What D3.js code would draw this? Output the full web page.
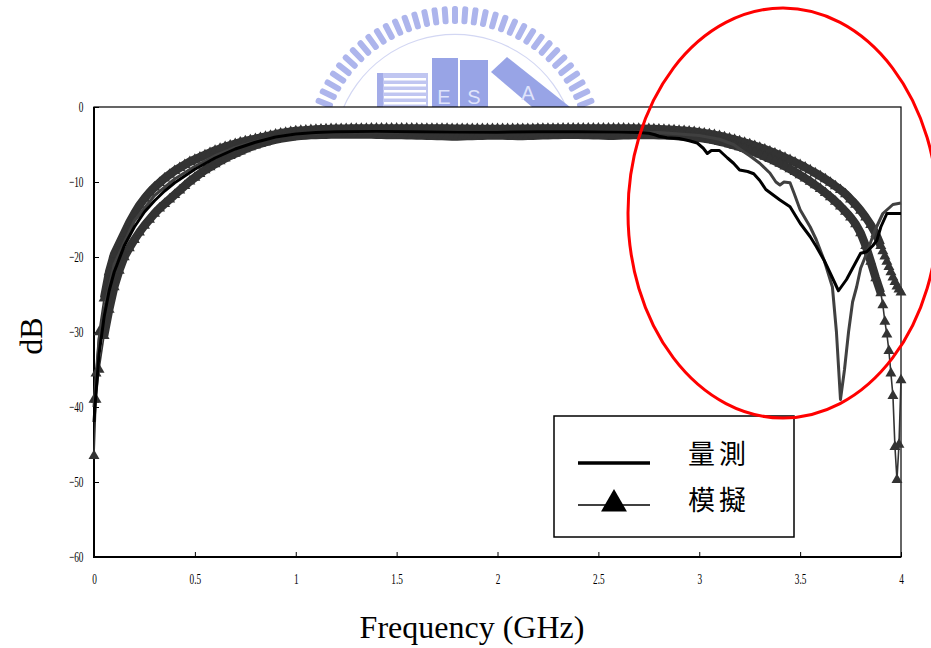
<!DOCTYPE html>
<html>
<head>
<meta charset="utf-8">
<script src="https://cdn.jsdelivr.net/npm/d3@7"></script>
<style>
  body { margin: 0; background: #fff; }
  svg { display: block; }
</style>
</head>
<body>
<div id="chart"></div>
<script>
// frequency grid of the two simulated curves (GHz)
const simFreq = [
  0, 0.01, 0.025, 0.05, 0.075, 0.1, 0.125, 0.15, 0.175, 0.2, 0.225,
  0.25, 0.275, 0.3, 0.325, 0.35, 0.375, 0.4, 0.425, 0.45, 0.475,
  0.5, 0.525, 0.55, 0.575, 0.6, 0.625, 0.65, 0.675, 0.7, 0.725,
  0.75, 0.775, 0.8, 0.825, 0.85, 0.875, 0.9, 0.925, 0.95, 0.975,
  1.0, 1.025, 1.05, 1.075, 1.1, 1.125, 1.15, 1.175, 1.2, 1.225,
  1.25, 1.275, 1.3, 1.325, 1.35, 1.375, 1.4, 1.425, 1.45, 1.475,
  1.5, 1.525, 1.55, 1.575, 1.6, 1.625, 1.65, 1.675, 1.7, 1.725,
  1.75, 1.775, 1.8, 1.825, 1.85, 1.875, 1.9, 1.925, 1.95, 1.975,
  2.0, 2.025, 2.05, 2.075, 2.1, 2.125, 2.15, 2.175, 2.2, 2.225,
  2.25, 2.275, 2.3, 2.325, 2.35, 2.375, 2.4, 2.425, 2.45, 2.475,
  2.5, 2.525, 2.55, 2.575, 2.6, 2.625, 2.65, 2.675, 2.7, 2.725,
  2.75, 2.775, 2.8, 2.825, 2.85, 2.875, 2.9, 2.925, 2.95, 2.975,
  3.0, 3.025, 3.05, 3.075, 3.1, 3.125, 3.15, 3.175, 3.2, 3.225,
  3.25, 3.275, 3.3, 3.325, 3.35, 3.375, 3.4, 3.425, 3.45, 3.475,
  3.5, 3.525, 3.55, 3.575, 3.6, 3.625, 3.65, 3.675, 3.7, 3.725,
  3.75, 3.775, 3.8, 3.825, 3.85, 3.875, 3.9, 3.91, 3.92, 3.93, 3.94, 3.95, 3.96, 3.97, 3.98, 3.99, 4.0
];
// simulated curve, wider passband
const simA = [
  -39, -35.5, -30, -25.5, -22, -19.6, -18.2, -16.8, -15.4, -14.2, -13.1,
  -12.2, -11.4, -10.7, -10.1, -9.5, -9.0, -8.5, -8.1, -7.7, -7.3,
  -7.0, -6.7, -6.4, -6.1, -5.8, -5.55, -5.3, -5.1, -4.9, -4.7,
  -4.55, -4.4, -4.25, -4.1, -3.95, -3.8, -3.65, -3.5, -3.4, -3.3,
  -3.2, -3.15, -3.1, -3.05, -3.0, -2.97, -2.95, -2.92, -2.9, -2.9,
  -2.9, -2.88, -2.88, -2.87, -2.87, -2.86, -2.86, -2.86, -2.85, -2.85,
  -2.85, -2.85, -2.86, -2.86, -2.86, -2.87, -2.87, -2.88, -2.88, -2.88,
  -2.88, -2.9, -2.9, -2.9, -2.9, -2.92, -2.92, -2.92, -2.92, -2.92,
  -2.92, -2.92, -2.92, -2.92, -2.9, -2.9, -2.9, -2.9, -2.88, -2.88,
  -2.88, -2.88, -2.88, -2.86, -2.86, -2.86, -2.86, -2.86, -2.86, -2.86,
  -2.86, -2.86, -2.86, -2.86, -2.86, -2.86, -2.87, -2.88, -2.89, -2.9,
  -2.92, -2.94, -2.97, -3.0, -3.04, -3.08, -3.13, -3.18, -3.24, -3.3,
  -3.4, -3.5, -3.6, -3.72, -3.85, -4.0, -4.17, -4.35, -4.55, -4.75,
  -4.95, -5.17, -5.4, -5.64, -5.9, -6.17, -6.45, -6.75, -7.05, -7.37,
  -7.7, -8.05, -8.42, -8.8, -9.2, -9.62, -10.07, -10.55, -11.05, -11.6,
  -12.3, -13.0, -13.8, -14.7, -15.7, -16.9, -18.5, -19.2, -19.9, -20.6, -21.3, -22.0, -22.7, -23.3, -23.9, -24.3, -24.7
];
// simulated curve, narrower passband with notch near 4 GHz
const simB = [
  -46.5, -39, -35, -30.5, -27, -24, -21.8, -20, -18.8, -17.7, -16.7,
  -15.8, -15.0, -14.2, -13.5, -12.9, -12.3, -11.7, -11.1, -10.5, -9.9,
  -9.4, -8.9, -8.4, -8.0, -7.6, -7.2, -6.85, -6.5, -6.2, -5.9,
  -5.6, -5.35, -5.1, -4.9, -4.7, -4.5, -4.35, -4.2, -4.1, -4.0,
  -3.9, -3.85, -3.8, -3.75, -3.72, -3.7, -3.7, -3.68, -3.68, -3.68,
  -3.66, -3.66, -3.66, -3.66, -3.68, -3.68, -3.7, -3.7, -3.72, -3.72,
  -3.74, -3.74, -3.76, -3.78, -3.8, -3.8, -3.82, -3.84, -3.86, -3.88,
  -3.9, -3.92, -3.92, -3.9, -3.88, -3.86, -3.84, -3.82, -3.8, -3.8,
  -3.8, -3.8, -3.82, -3.84, -3.86, -3.86, -3.84, -3.82, -3.8, -3.78,
  -3.76, -3.74, -3.72, -3.7, -3.7, -3.7, -3.7, -3.72, -3.74, -3.76,
  -3.78, -3.8, -3.82, -3.82, -3.8, -3.78, -3.76, -3.74, -3.72, -3.72,
  -3.72, -3.74, -3.76, -3.78, -3.81, -3.85, -3.89, -3.94, -4.0, -4.05,
  -4.1, -4.2, -4.32, -4.45, -4.6, -4.76, -4.94, -5.13, -5.34, -5.56,
  -5.8, -6.05, -6.32, -6.6, -6.9, -7.22, -7.55, -7.9, -8.27, -8.66,
  -9.07, -9.5, -9.95, -10.42, -10.92, -11.45, -12.0, -12.6, -13.25, -13.95,
  -14.7, -15.6, -16.8, -18.5, -20.6, -22.8, -24.8, -26.4, -28.6, -30.3, -32.5, -35.5, -38.5, -45.3, -49.7, -45.0, -36.4
];

// measured curve (legend: 量測)
const measFreq = [0, 0.01, 0.025, 0.05, 0.075, 0.1, 0.15, 0.2, 0.25, 0.3, 0.35, 0.4, 0.45, 0.5, 0.6, 0.7, 0.8, 0.9, 1.0,
  1.1, 1.2, 1.4, 1.6, 1.8, 2.0, 2.2, 2.4, 2.6, 2.7, 2.75, 2.78, 2.8, 2.84, 2.9, 2.95, 2.99, 3.02, 3.04, 3.06, 3.1,
  3.14, 3.17, 3.2, 3.24, 3.27, 3.3, 3.33, 3.37, 3.4, 3.45, 3.5, 3.55, 3.58, 3.62, 3.65, 3.69, 3.73, 3.77, 3.8,
  3.83, 3.86, 3.88, 3.9, 3.93, 4.0];
const measDb = [-42, -38, -33, -28, -24.5, -22, -18.5, -16, -14, -12.5, -11.2, -10.1, -9.2, -8.3, -6.8, -5.6, -4.7, -4.0, -3.6,
  -3.4, -3.3, -3.25, -3.3, -3.35, -3.35, -3.3, -3.3, -3.35, -3.4, -3.5, -3.7, -3.9, -4.1, -4.2, -4.5, -4.8, -5.5, -6.2, -5.8, -5.8,
  -6.8, -7.5, -8.4, -8.6, -8.9, -9.8, -11, -11.8, -12.4, -13.3, -15.5, -17.3, -18.6, -20.5, -22.2, -24.5, -23, -21, -19.5,
  -19.3, -18.5, -17.8, -16, -14.2, -14.2];

// second measured trace (grey, not in legend)
const traceFreq = [0, 0.01, 0.025, 0.05, 0.1, 0.2, 0.3, 0.4, 0.5, 0.6, 0.7, 0.8, 0.9, 1.0, 1.2, 1.6, 2.0, 2.4, 2.8, 3.0,
  3.1, 3.17, 3.2, 3.25, 3.3, 3.35, 3.38, 3.4, 3.42, 3.45, 3.47, 3.5, 3.55, 3.58, 3.62, 3.66, 3.68, 3.7, 3.72, 3.74,
  3.76, 3.78, 3.8, 3.83, 3.87, 3.91, 3.96, 4.0];
const traceDb = [-40, -36, -31, -27, -21, -15.2, -11.8, -9.6, -7.9, -6.5, -5.4, -4.6, -4.0, -3.6, -3.3, -3.3, -3.3, -3.3, -3.4, -3.8,
  -4.3, -5.0, -5.6, -6.5, -7.5, -8.8, -10.0, -10.4, -10.0, -10.1, -11.5, -13.7, -16.0, -17.7, -20.5, -24, -30, -39, -35, -30,
  -26, -24, -21.5, -19.5, -16.5, -14.2, -13.0, -12.8];

const xTicks = [0, 0.5, 1, 1.5, 2, 2.5, 3, 3.5, 4];
const xTickLabels = ["0", "0.5", "1", "1.5", "2", "2.5", "3", "3.5", "4"];
const yTicks = [0, -10, -20, -30, -40, -50, -60];
const legendLabels = ["量測", "模擬"];

// dimensions
const width = 931, height = 648;
const plot = {left: 94, right: 901, top: 107, bottom: 557};

let svg = d3.select("#chart")
  .append("svg")
    .attr("width", width)
    .attr("height", height);

// watermark logo behind the plot
const logo = svg.append("g").attr("class", "watermark");
const lc = {x: 455, y: 156};
d3.range(22, 160, 4).forEach(function(a) {
  const r = a * Math.PI / 180;
  logo.append("rect")
    .attr("x", -3).attr("y", -9).attr("width", 6).attr("height", 18)
    .attr("rx", 2.5)
    .attr("fill", "#adb5ec")
    .attr("transform", "translate(" + (lc.x + 141 * Math.cos(r)) + "," + (lc.y - 141 * Math.sin(r)) + ") rotate(" + (90 - a) + ")");
});
logo.append("path")
  .attr("d", d3.arc()({innerRadius: 121, outerRadius: 122.2, startAngle: -1.25, endAngle: 1.25}))
  .attr("transform", "translate(" + lc.x + "," + lc.y + ")")
  .attr("fill", "#d3d7f3");
logo.append("rect").attr("x", 377).attr("y", 73).attr("width", 51).attr("height", 34).attr("fill", "#c0c6f1");
[78, 84, 90, 96, 102].forEach(function(yy) {
  logo.append("rect").attr("x", 384).attr("y", yy).attr("width", 42).attr("height", 2.5).attr("fill", "#fff");
});
logo.append("rect").attr("x", 377).attr("y", 73).attr("width", 6).attr("height", 34).attr("fill", "#a3ace8");
logo.append("rect").attr("x", 432).attr("y", 58).attr("width", 26).attr("height", 49).attr("fill", "#98a4e6");
logo.append("rect").attr("x", 460).attr("y", 60).attr("width", 28).attr("height", 47).attr("fill", "#98a4e6");
logo.append("polygon").attr("points", "491,72 507,57 570,107 532,107").attr("fill", "#98a4e6");
[["E", 444, 104], ["S", 474, 104], ["A", 528, 100]].forEach(function(t) {
  logo.append("text").attr("x", t[1]).attr("y", t[2])
    .attr("text-anchor", "middle")
    .style("font-family", "Liberation Sans").style("font-size", "20px")
    .attr("fill", "#dfe3fb").text(t[0]);
});

// white plot area hides the lower half of the logo
svg.append("rect")
  .attr("x", plot.left).attr("y", plot.top)
  .attr("width", plot.right - plot.left).attr("height", plot.bottom - plot.top)
  .attr("fill", "#fff");

// scales
let x = d3.scaleLinear().domain([0, 4]).range([plot.left, plot.right]);
let y = d3.scaleLinear().domain([-60, 0]).range([plot.bottom, plot.top]);

// axes, ticks pointing inward, condensed serif labels
let xAxis = d3.axisBottom(x).tickValues(xTicks)
  .tickFormat(function(d, i) { return xTickLabels[i]; })
  .tickSize(-5).tickPadding(16);
svg.append("g")
  .attr("class", "x-axis")
  .attr("transform", "translate(0," + plot.bottom + ")")
  .call(xAxis);

let yAxis = d3.axisLeft(y).tickValues(yTicks).tickSize(-5).tickPadding(17);
svg.append("g")
  .attr("class", "y-axis")
  .attr("transform", "translate(" + plot.left + ",0)")
  .call(yAxis);

svg.selectAll(".x-axis .domain, .y-axis .domain").remove();
svg.selectAll(".x-axis line, .y-axis line").attr("stroke", "#000");
svg.selectAll(".x-axis text, .y-axis text")
  .style("font-family", "Liberation Serif")
  .style("font-size", "15px")
  .attr("fill", "#000")
  .attr("transform", "scale(0.62,1)");

// frame
svg.append("rect")
  .attr("x", plot.left).attr("y", plot.top)
  .attr("width", plot.right - plot.left).attr("height", plot.bottom - plot.top)
  .attr("fill", "none").attr("stroke", "#000").attr("stroke-width", 1.2);
svg.append("path")
  .attr("d", "M" + plot.left + "," + plot.top + "V" + plot.bottom + "H" + plot.right)
  .attr("fill", "none").attr("stroke", "#000").attr("stroke-width", 2);

// curves
const line = d3.line().x(function(d) { return x(d[0]); }).y(function(d) { return y(d[1]); });
const tri = d3.symbol(d3.symbolTriangle, 52);

// the dense markers of the simulation merge into a solid band: a wide stroke stands for it
[simA, simB].forEach(function(vals) {
  const pts = d3.zip(simFreq, vals);
  svg.append("path").datum(pts.filter(function(d) { return d[0] >= 0.05 && d[0] <= 3.9; }))
    .attr("d", line)
    .attr("fill", "none").attr("stroke", "#333").attr("stroke-width", 8.5)
    .attr("stroke-linejoin", "round");
  svg.append("path").datum(pts)
    .attr("d", line)
    .attr("fill", "none").attr("stroke", "#333").attr("stroke-width", 1.6);
  svg.append("g").selectAll("path")
    .data(pts)
    .enter()
    .append("path")
    .attr("d", tri)
    .attr("transform", function(d) { return "translate(" + x(d[0]) + "," + y(d[1]) + ")"; })
    .attr("fill", "#333");
});

svg.append("path").datum(d3.zip(traceFreq, traceDb))
  .attr("d", line)
  .attr("fill", "none").attr("stroke", "#404040").attr("stroke-width", 3)
  .attr("stroke-linejoin", "round");

svg.append("path").datum(d3.zip(measFreq, measDb))
  .attr("d", line)
  .attr("fill", "none").attr("stroke", "#000").attr("stroke-width", 3)
  .attr("stroke-linejoin", "round");

// legend
const lg = svg.append("g").attr("class", "legend");
lg.append("rect")
  .attr("x", 554).attr("y", 416).attr("width", 240).attr("height", 121)
  .attr("fill", "#fff").attr("stroke", "#000").attr("stroke-width", 1.5);
lg.append("line").attr("x1", 578).attr("x2", 650).attr("y1", 463).attr("y2", 463)
  .attr("stroke", "#000").attr("stroke-width", 3.5);
lg.append("line").attr("x1", 578).attr("x2", 650).attr("y1", 505).attr("y2", 505)
  .attr("stroke", "#000").attr("stroke-width", 1.5);
lg.append("path").attr("d", d3.symbol(d3.symbolTriangle, 290))
  .attr("transform", "translate(614,504)").attr("fill", "#000");
lg.selectAll("text.lab")
  .data(legendLabels)
  .enter()
  .append("text")
  .attr("class", "lab")
  .attr("x", 688)
  .attr("y", function(d, i) { return 464 + i * 46; })
  .style("font-family", "Noto Sans CJK TC")
  .style("font-size", "27px")
  .style("letter-spacing", "4px")
  .attr("fill", "#000")
  .text(function(d) { return d; });

// axis titles
svg.append("text")
  .attr("x", 472).attr("y", 638)
  .attr("text-anchor", "middle")
  .style("font-family", "Liberation Serif")
  .style("font-size", "32px")
  .text("Frequency (GHz)");

svg.append("text")
  .attr("transform", "translate(42,336) rotate(-90)")
  .attr("text-anchor", "middle")
  .style("font-family", "Liberation Serif")
  .style("font-size", "32px")
  .text("dB");

// red highlight ellipse
svg.append("ellipse")
  .attr("cx", 783).attr("cy", 213).attr("rx", 155).attr("ry", 205)
  .attr("fill", "none").attr("stroke", "#ff0000").attr("stroke-width", 3);
</script>
</body>
</html>
